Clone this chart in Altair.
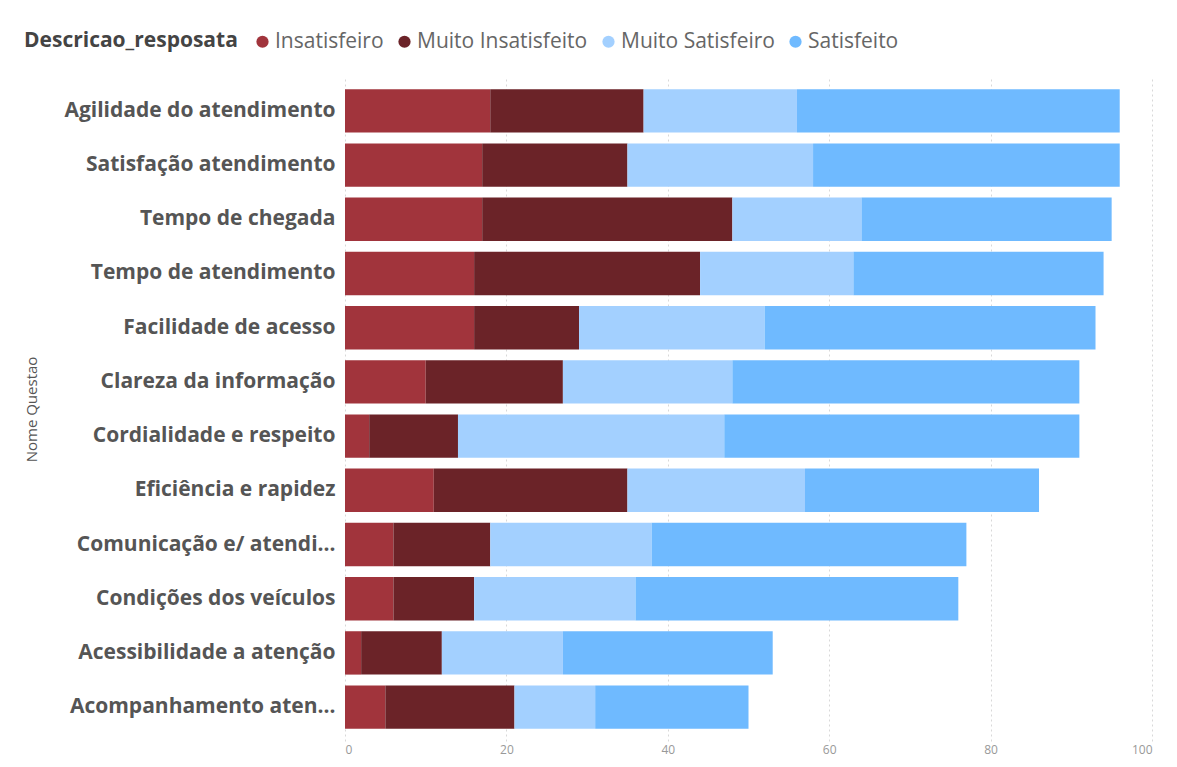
import altair as alt
import pandas as pd

questoes = [
    "Agilidade do atendimento", "Satisfação atendimento", "Tempo de chegada",
    "Tempo de atendimento", "Facilidade de acesso", "Clareza da informação",
    "Cordialidade e respeito", "Eficiência e rapidez", "Comunicação e/ atendi…",
    "Condições dos veículos", "Acessibilidade a atenção", "Acompanhamento aten…",
]
respostas = ["Insatisfeiro", "Muito Insatisfeito", "Muito Satisfeiro", "Satisfeito"]
insatisfeiro = [18, 17, 17, 16, 16, 10, 3, 11, 6, 6, 2, 5]
muito_insatisfeito = [19, 18, 31, 28, 13, 17, 11, 24, 12, 10, 10, 16]
muito_satisfeiro = [19, 23, 16, 19, 23, 21, 33, 22, 20, 20, 15, 10]
satisfeito = [40, 38, 31, 31, 41, 43, 44, 29, 39, 40, 26, 19]
cores = ["#A1343C", "#6B2328", "#A3D0FF", "#6FBAFF"]

series = [insatisfeiro, muito_insatisfeito, muito_satisfeiro, satisfeito]
rows = []
for r_i, (resp, vals) in enumerate(zip(respostas, series)):
    for q, v in zip(questoes, vals):
        rows.append({"Nome Questao": q, "Descricao_resposata": resp, "valor": v, "ordem": r_i})
df = pd.DataFrame(rows)

font = "Open Sans"

chart = alt.Chart(df).mark_bar().encode(
    y=alt.Y("Nome Questao:N", sort=questoes,
            scale=alt.Scale(paddingInner=0.2, paddingOuter=0.225),
            axis=alt.Axis(title="Nome Questao", titleFont=font, titleFontSize=15,
                          titleFontWeight="normal", titleColor="#555555",
                          titleX=-306, titleY=332, titleAngle=270,
                          labelFont=font, labelFontSize=21, labelFontWeight="bold",
                          labelColor="#555555", labelPadding=10, labelLimit=330,
                          domain=False, ticks=False, grid=False)),
    x=alt.X("valor:Q", stack="zero",
            scale=alt.Scale(domain=[0, 100], nice=False),
            axis=alt.Axis(title=None, values=[0, 20, 40, 60, 80, 100], labelFont=font,
                          labelFontSize=12, labelColor="#999999", domain=False, ticks=False,
                          grid=True, gridDash=[2, 3], gridColor="#d8d8d8", labelPadding=3)),
    color=alt.Color("Descricao_resposata:N",
                    scale=alt.Scale(domain=respostas, range=cores),
                    legend=alt.Legend(orient="none", legendX=-321, legendY=-46,
                                      direction="horizontal", titleOrient="left",
                                      title="Descricao_resposata", titleFont=font,
                                      titleFontSize=21, titleFontWeight="bold",
                                      titleColor="#444444", titleLimit=400,
                                      labelFont=font, labelFontSize=21,
                                      labelColor="#666666", symbolType="circle",
                                      symbolSize=150, columnPadding=10, labelOffset=2,
                                      titlePadding=14, labelLimit=300)),
    order=alt.Order("ordem:Q", sort="ascending"),
).properties(
    width=807, height=664,
    autosize=alt.AutoSizeParams(type="none"),
    padding={"left": 337, "top": 69, "right": 17, "bottom": 18},
    background="white",
).configure_view(stroke=None)

chart.save("out.html", embed_options={"renderer": "svg", "actions": False})
